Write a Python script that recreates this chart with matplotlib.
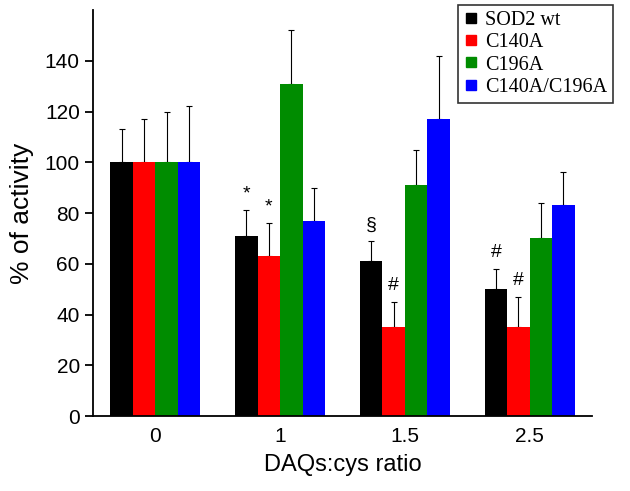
import numpy as np
import matplotlib
matplotlib.use("Agg")
import matplotlib.pyplot as plt
from matplotlib.lines import Line2D

# data
ratios = ["0", "1", "1.5", "2.5"]
series = ["SOD2 wt", "C140A", "C196A", "C140A/C196A"]
colors = ["#000000", "#ff0000", "#008c00", "#0000ff"]
sod2_wt = [100, 71, 61, 50]
c140a = [100, 63, 35, 35]
c196a = [100, 131, 91, 70]
c140a_c196a = [100, 77, 117, 83]
sod2_wt_err = [13, 10, 8, 8]
c140a_err = [17, 13, 10, 12]
c196a_err = [20, 21, 14, 14]
c140a_c196a_err = [22, 13, 25, 13]
# significance marks (series index, group index, symbol)
marks = [(0, 1, "*"), (1, 1, "*"), (0, 2, "§"), (1, 2, "#"), (0, 3, "#"), (1, 3, "#")]

values = [sod2_wt, c140a, c196a, c140a_c196a]
errors = [sod2_wt_err, c140a_err, c196a_err, c140a_c196a_err]

fig = plt.figure(figsize=(6.3, 4.91), dpi=100)
ax = fig.add_axes([0.1476, 0.1527, 0.7921, 0.8269])

x = np.arange(len(ratios))
w = 0.18
for i in range(4):
    pos = x + (i - 1.5) * w
    ax.bar(pos, values[i], width=w, color=colors[i], edgecolor="none", zorder=2)
    ax.errorbar(pos, values[i], yerr=[np.zeros(4), errors[i]], fmt="none",
                ecolor="black", elinewidth=0.8, capsize=2.5, capthick=0.8, zorder=1)

for s, g, sym in marks:
    xp = x[g] + (s - 1.5) * w
    yp = values[s][g] + errors[s][g] + 3
    ax.text(xp, yp, sym, ha="center", va="bottom", fontsize=14,
            family="Liberation Sans")

ax.set_xlim(-0.5, 3.5)
ax.set_ylim(0, 160)
ax.set_yticks(range(0, 141, 20))
ax.set_xticks(x)
ax.set_xticklabels(ratios)
ax.spines["top"].set_visible(False)
ax.spines["right"].set_visible(False)
ax.spines["left"].set_linewidth(1.3)
ax.spines["bottom"].set_linewidth(1.3)
ax.tick_params(axis="y", direction="out", length=6, width=1.3, labelsize=15)
ax.tick_params(axis="x", length=0, labelsize=15, pad=8)
for lab in ax.get_xticklabels() + ax.get_yticklabels():
    lab.set_family("Liberation Sans")
ax.set_ylabel("% of activity", fontsize=19, family="Liberation Sans", labelpad=8)
ax.set_xlabel("DAQs:cys ratio", fontsize=17, family="Liberation Sans", labelpad=6)

handles = [Line2D([0], [0], marker="s", color="w", markerfacecolor=c,
                  markeredgecolor=c, markersize=7.5) for c in colors]
leg = ax.legend(handles, series, loc="upper right", bbox_to_anchor=(1.042, 1.012),
                borderaxespad=0,
                prop={"family": "Liberation Serif", "size": 14.5},
                frameon=True, fancybox=False, edgecolor="black",
                handlelength=0.7, handletextpad=0.35, labelspacing=0.15,
                borderpad=0.3)
leg.get_frame().set_linewidth(1.2)

fig.savefig("out.png", dpi=100)
